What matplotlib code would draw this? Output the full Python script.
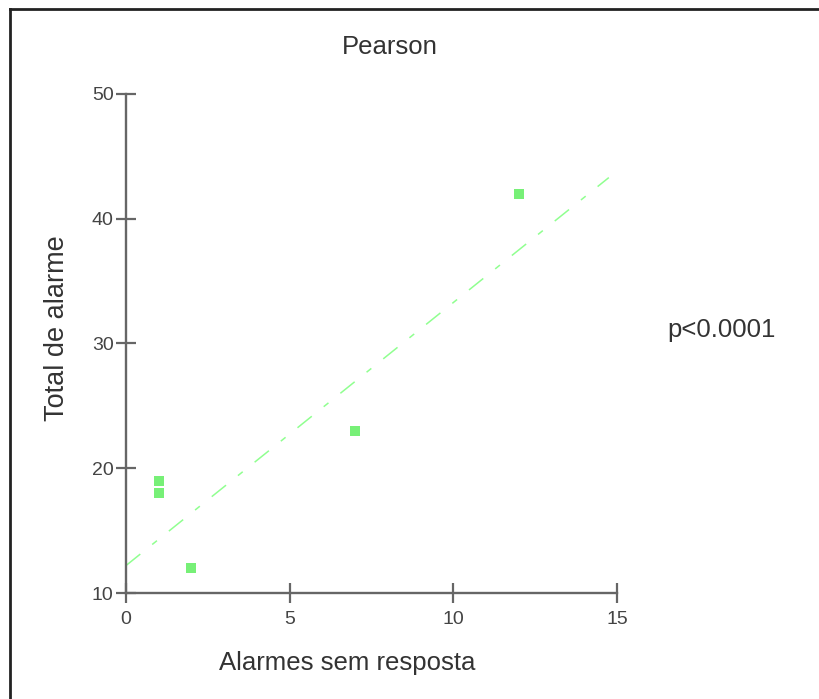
import matplotlib.pyplot as plt
from matplotlib.lines import Line2D

# data
alarmes_sem_resposta = [1, 1, 2, 7, 12]
total_alarme = [19, 18, 12, 23, 42]
# regression line end points
fit_x = [0, 14.75]
fit_y = [12.2, 43.3]

x_ticks = [0, 5, 10, 15]
y_ticks = [10, 20, 30, 40, 50]

plt.rcParams['font.family'] = ['Liberation Sans', 'DejaVu Sans']

fig = plt.figure(figsize=(8.2, 6.99), dpi=100)
ax = fig.add_axes([126 / 820, 1 - 593 / 699, (617 - 126) / 820, (593 - 94) / 699])

green = '#77f077'
ax.plot(fit_x, fit_y, color='#90ff90', lw=1.1, dashes=(12, 10, 4, 10))
ax.scatter(alarmes_sem_resposta, total_alarme, marker='s', s=42, color=green,
           linewidths=0, zorder=3)

ax.set_xlim(0, 15)
ax.set_ylim(10, 50)
ax.set_xticks(x_ticks)
ax.set_yticks(y_ticks)
for side in ['top', 'right']:
    ax.spines[side].set_visible(False)
for side in ['left', 'bottom']:
    ax.spines[side].set_color('#666666')
    ax.spines[side].set_linewidth(1.7)
ax.tick_params(direction='inout', length=14, width=1.6, color='#666666',
               labelsize=14, labelcolor='#444444', pad=2)
ax.tick_params(axis='x', pad=6)

fig.text(390 / 820, 1 - 47 / 699, 'Pearson', ha='center', va='center',
         fontsize=18.5, color='#333333')
fig.text(347 / 820, 1 - 663 / 699, 'Alarmes sem resposta', ha='center',
         va='center', fontsize=18.5, color='#333333')
fig.text(57 / 820, 1 - 328 / 699, 'Total de alarme', ha='center', va='center',
         rotation=90, fontsize=19.5, color='#333333')
fig.text(667 / 820, 1 - 330 / 699, 'p<0.0001', ha='left', va='center',
         fontsize=18.5, color='#333333')

# frame on top and left edges
fig.add_artist(Line2D([10 / 820, 10 / 820], [0, 1 - 9 / 699], color='#222222',
                      lw=2, transform=fig.transFigure))
fig.add_artist(Line2D([10 / 820, 1], [1 - 9 / 699, 1 - 9 / 699], color='#222222',
                      lw=2, transform=fig.transFigure))

fig.savefig('out.png', dpi=100)
